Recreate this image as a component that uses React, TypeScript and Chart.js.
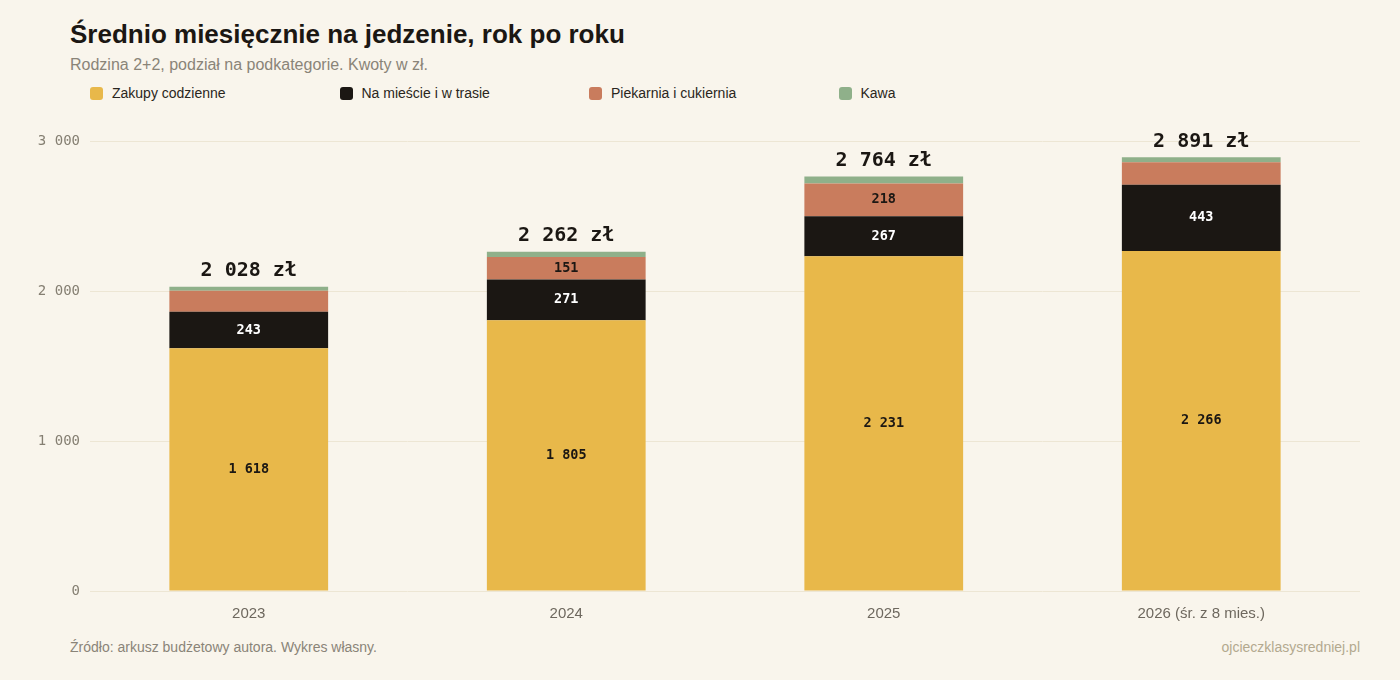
import { useEffect, useRef } from 'react';
import Chart from 'chart.js/auto';

const years = ['2023', '2024', '2025', '2026 (śr. z 8 mies.)'];
const zakupy = [1618, 1805, 2231, 2266];
const naMiescie = [243, 271, 267, 443];
const piekarnia = [140, 151, 218, 149];
const kawa = [27, 35, 48, 33];
const totals = [2028, 2262, 2764, 2891];
const yTicks = [0, 1000, 2000, 3000];

const BG = '#f9f5ec';
const MONO = '"DejaVu Sans Mono", "Liberation Mono", monospace';
const SANS = '"Liberation Sans", Arial, sans-serif';

const series = [
  { label: 'Zakupy codzienne', data: zakupy, color: '#e8b84a', text: '#1b1713' },
  { label: 'Na mieście i w trasie', data: naMiescie, color: '#1b1713', text: '#ffffff' },
  { label: 'Piekarnia i cukiernia', data: piekarnia, color: '#c97c5d', text: '#1b1713' },
  { label: 'Kawa', data: kawa, color: '#8fb08a', text: '#1b1713' },
];

const fmt = (v: number) => String(Math.round(v)).replace(/\B(?=(\d{3})+(?!\d))/g, ' ');

const labelsPlugin = {
  id: 'barLabels',
  afterDatasetsDraw(chart: any) {
    const ctx = chart.ctx;
    ctx.save();
    ctx.textAlign = 'center';
    ctx.textBaseline = 'middle';
    chart.data.datasets.forEach((ds: any, i: number) => {
      const meta = chart.getDatasetMeta(i);
      meta.data.forEach((bar: any, j: number) => {
        const v = ds.data[j];
        if (v < 150) return;
        ctx.font = 'bold 13.5px ' + MONO;
        ctx.fillStyle = series[i].text;
        ctx.fillText(fmt(v), bar.x, (bar.y + bar.base) / 2);
      });
    });
    const yScale = chart.scales.y;
    const last = chart.getDatasetMeta(chart.data.datasets.length - 1);
    totals.forEach((t, j) => {
      const x = last.data[j].x;
      const top = yScale.getPixelForValue(t);
      ctx.font = 'bold 20px ' + MONO;
      ctx.fillStyle = '#1b1713';
      ctx.fillText(fmt(t) + ' zł', x, top - 16);
    });
    ctx.restore();
  },
};

const App = () => {
  const chartRef = useRef<HTMLCanvasElement>(null);
  const chartInstance = useRef<Chart | null>(null);

  useEffect(() => {
    document.body.style.margin = '0';
    document.body.style.background = BG;
    if (chartRef.current) {
      if (chartInstance.current) chartInstance.current.destroy();
      chartInstance.current = new Chart(chartRef.current, {
        type: 'bar',
        data: {
          labels: years,
          datasets: series.map((s) => ({
            label: s.label,
            data: s.data,
            backgroundColor: s.color,
            borderWidth: 0,
            categoryPercentage: 1,
            barPercentage: 0.5,
          })),
        },
        options: {
          animation: false,
          responsive: false,
          maintainAspectRatio: false,
          layout: { padding: { top: 24, right: 40, bottom: 0, left: 0 } },
          plugins: {
            legend: { display: false },
            tooltip: { enabled: false },
          },
          scales: {
            x: {
              stacked: true,
              grid: { display: false },
              border: { display: false },
              ticks: { color: '#6e685e', font: { family: SANS, size: 15 }, padding: 6 },
              afterFit: (scale: any) => {
                scale.height = 41;
              },
            },
            y: {
              stacked: true,
              min: 0,
              max: 3000,
              afterBuildTicks: (scale: any) => {
                scale.ticks = yTicks.map((v) => ({ value: v }));
              },
              afterFit: (scale: any) => {
                scale.width = 90;
              },
              grid: { color: '#ede6d4', lineWidth: 1, drawTicks: false },
              border: { display: false },
              ticks: {
                color: '#857f72',
                font: { family: MONO, size: 14 },
                padding: 10,
                callback: (v: any) => fmt(Number(v)),
              },
            },
          },
        },
        plugins: [labelsPlugin],
      });
    }
    return () => {
      if (chartInstance.current) chartInstance.current.destroy();
      chartInstance.current = null;
    };
  }, []);

  return (
    <div
      style={{
        position: 'relative',
        width: 1400,
        height: 680,
        background: BG,
        fontFamily: SANS,
        overflow: 'hidden',
      }}
    >
      <div
        style={{
          position: 'absolute',
          left: 70,
          top: 19,
          fontSize: 26,
          fontWeight: 'bold',
          color: '#1b1713',
        }}
      >
        Średnio miesięcznie na jedzenie, rok po roku
      </div>
      <div style={{ position: 'absolute', left: 70, top: 56, fontSize: 16, color: '#8a8478' }}>
        Rodzina 2+2, podział na podkategorie. Kwoty w zł.
      </div>
      {series.map((s, i) => (
        <div
          key={s.label}
          style={{
            position: 'absolute',
            left: 90 + i * 249.5,
            top: 85,
            display: 'flex',
            alignItems: 'center',
            fontSize: 14,
            color: '#2a2620',
          }}
        >
          <span
            style={{
              display: 'inline-block',
              width: 13,
              height: 13,
              borderRadius: 3,
              background: s.color,
              marginRight: 9,
            }}
          />
          {s.label}
        </div>
      ))}
      <canvas
        ref={chartRef}
        width={1400}
        height={515}
        style={{ position: 'absolute', left: 0, top: 117, width: 1400, height: 515 }}
      />
      <div style={{ position: 'absolute', left: 70, top: 639, fontSize: 14, color: '#8a8478' }}>
        Źródło: arkusz budżetowy autora. Wykres własny.
      </div>
      <div style={{ position: 'absolute', right: 40, top: 639, fontSize: 14, color: '#b3a98f' }}>
        ojcieczklasysredniej.pl
      </div>
    </div>
  );
};

export default App;
